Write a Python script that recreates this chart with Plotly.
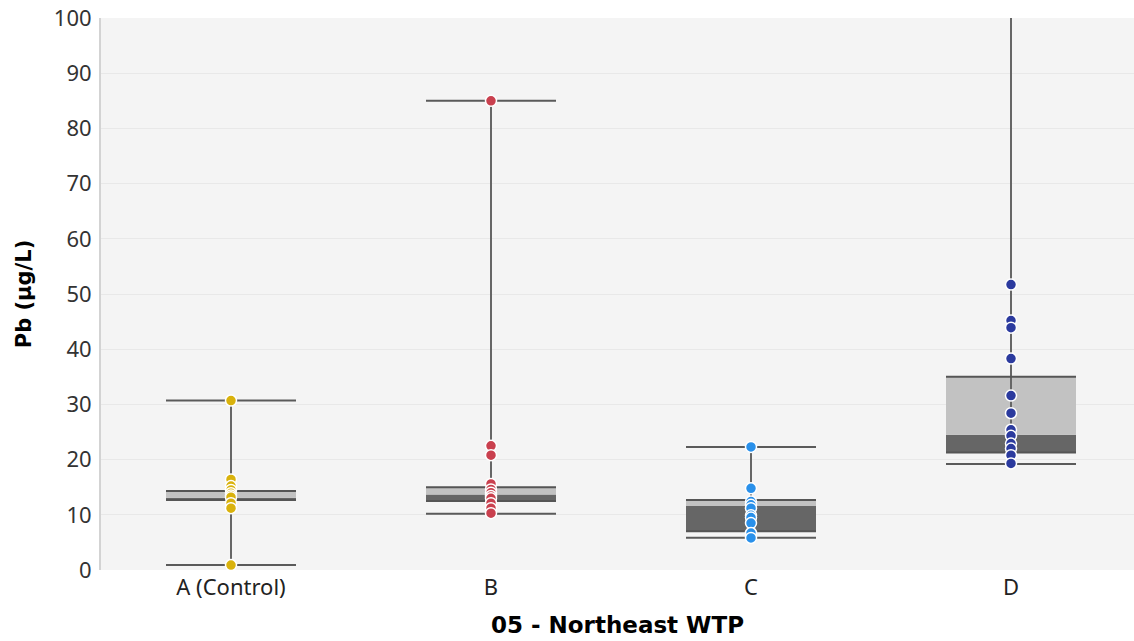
import plotly.graph_objects as go

categories = ["A (Control)", "B", "C", "D"]
lower_fence = [0.9, 10.2, 5.85, 19.2]
q1 = [12.7, 12.5, 7.0, 21.3]
median = [13.1, 13.7, 11.6, 24.5]
q3 = [14.3, 15.0, 12.7, 35.0]
upper_fence = [30.7, 85.0, 22.3, 110.0]

points_a = [30.7, 16.4, 15.2, 14.5, 13.9, 13.5, 13.2, 12.1, 11.2, 0.9]
points_b = [85.0, 22.5, 20.8, 15.6, 14.6, 14.0, 13.4, 13.0, 12.1, 11.2, 10.3]
points_c = [22.3, 14.8, 12.4, 11.8, 11.2, 9.9, 9.5, 8.5, 6.7, 5.8]
points_d = [51.7, 45.2, 43.9, 38.3, 31.6, 28.4, 25.4, 24.3, 22.9, 22.0, 20.8, 19.3]
point_sets = [points_a, points_b, points_c, points_d]
point_colors = ["#D9B20C", "#C9404E", "#2990EA", "#2B3A9E"]

y_ticks = [0, 10, 20, 30, 40, 50, 60, 70, 80, 90, 100]

half = 0.25
xs = list(range(len(categories)))

fig = go.Figure()

# whiskers (vertical)
wx, wy = [], []
for i in xs:
    wx += [i, i, None]
    wy += [lower_fence[i], upper_fence[i], None]
fig.add_trace(go.Scatter(x=wx, y=wy, mode="lines",
                         line=dict(color="#666666", width=2), hoverinfo="skip"))

# caps
cx, cy = [], []
for i in xs:
    for v in (lower_fence[i], upper_fence[i]):
        cx += [i - half, i + half, None]
        cy += [v, v, None]
fig.add_trace(go.Scatter(x=cx, y=cy, mode="lines",
                         line=dict(color="#5a5a5a", width=2), hoverinfo="skip"))

# lower box part (Q1 - median), dark
fig.add_trace(go.Bar(x=xs, base=q1, y=[m - a for m, a in zip(median, q1)],
                     width=2 * half, marker=dict(color="#666666", line=dict(width=0)),
                     hoverinfo="skip"))
# upper box part (median - Q3), light
fig.add_trace(go.Bar(x=xs, base=median, y=[b - m for b, m in zip(q3, median)],
                     width=2 * half, marker=dict(color="#C2C2C2", line=dict(width=0)),
                     hoverinfo="skip"))

# box top / bottom edges
ex, ey = [], []
for i in xs:
    for v in (q1[i], q3[i]):
        ex += [i - half, i + half, None]
        ey += [v, v, None]
fig.add_trace(go.Scatter(x=ex, y=ey, mode="lines",
                         line=dict(color="#555555", width=2), hoverinfo="skip"))

# points
for i, pts in enumerate(point_sets):
    fig.add_trace(go.Scatter(x=[i] * len(pts), y=pts, mode="markers",
                             marker=dict(color=point_colors[i], size=11,
                                         line=dict(color="white", width=1.5)),
                             hoverinfo="skip"))

fig.update_layout(
    width=1134, height=641,
    margin=dict(l=101, r=0, t=18, b=71),
    paper_bgcolor="white", plot_bgcolor="#F4F4F4",
    showlegend=False, barmode="overlay",
    font=dict(family="Noto Sans", color="#333333", size=22),
)
fig.update_xaxes(
    range=[-0.5, -0.5 + (1134 - 101) / 260.0],
    tickvals=xs, ticktext=categories, showgrid=False, zeroline=False,
    tickfont=dict(size=22, color="#222222"), ticklabelstandoff=2,
    title=dict(text="05 - Northeast WTP", standoff=16,
               font=dict(family="DejaVu Sans", size=23, color="#000000", weight="bold")),
)
fig.update_yaxes(
    range=[0, 100], tickvals=y_ticks, showgrid=True, gridcolor="#E8E8E8",
    zeroline=False, showline=True, linecolor="#D3D3D3", linewidth=2,
    tickfont=dict(size=22, color="#333333"), ticks="", ticklen=0,
    ticklabelstandoff=3,
    title=dict(text="Pb (µg/L)", standoff=16,
               font=dict(family="DejaVu Sans", size=21, color="#000000", weight="bold")),
)

fig.write_html("out.html")
